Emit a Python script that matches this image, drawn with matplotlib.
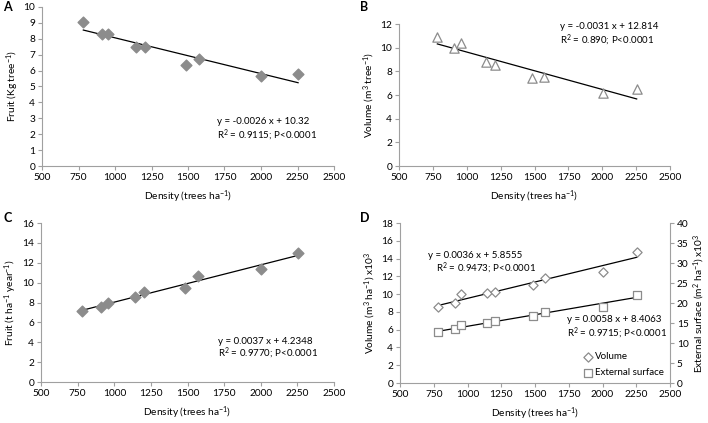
import matplotlib
matplotlib.use("Agg")
import matplotlib.pyplot as plt
import numpy as np

plt.rcParams['font.family'] = ['Lato', 'DejaVu Sans']
plt.rcParams['mathtext.fontset'] = 'custom'
plt.rcParams['mathtext.rm'] = 'Lato'
plt.rcParams['mathtext.it'] = 'Lato:italic'
plt.rcParams['mathtext.bf'] = 'Lato:bold'

density = [783, 908, 954, 1143, 1205, 1485, 1572, 2003, 2254]
fruit_tree = [9.06, 8.30, 8.32, 7.46, 7.46, 6.35, 6.75, 5.64, 5.77]
volume_tree = [10.9, 9.94, 10.42, 8.79, 8.50, 7.44, 7.52, 6.17, 6.54]
fruit_ha = [7.11, 7.55, 7.99, 8.59, 9.06, 9.46, 10.64, 11.38, 12.95]
volume_ha = [8.54, 9.03, 9.96, 10.07, 10.22, 11.01, 11.83, 12.47, 14.75]
surface_ha = [12.72, 13.55, 14.38, 15.05, 15.46, 16.63, 17.79, 19.04, 22.11]

eq_a = ["y = -0.0026 x + 10.32", "R$^2$ = 0.9115; P<0.0001"]
eq_b = ["y = -0.0031 x + 12.814", "R$^2$ = 0.890; P<0.0001"]
eq_c = ["y = 0.0037 x + 4.2348", "R$^2$ = 0.9770; P<0.0001"]
eq_d1 = ["y = 0.0036 x + 5.8555", "R$^2$ = 0.9473; P<0.0001"]
eq_d2 = ["y = 0.0058 x + 8.4063", "R$^2$ = 0.9715; P<0.0001"]

W, H = 708, 423
fig = plt.figure(figsize=(W/100, H/100), dpi=100)

def rect(l, r, t, b):
    return [l/W, 1-b/H, (r-l)/W, (b-t)/H]

GREY = '#8c8c8c'
SP = '#a0a0a0'
FS = 7.3
AFS = 7.0

def style(ax, ylim, yticks, ylabel):
    ax.set_xlim(500, 2500)
    ax.set_xticks(range(500, 2501, 250))
    ax.set_ylim(*ylim)
    ax.set_yticks(yticks)
    for s in ['top', 'right']:
        ax.spines[s].set_visible(False)
    for s in ['left', 'bottom']:
        ax.spines[s].set_color(SP)
        ax.spines[s].set_linewidth(0.8)
    ax.tick_params(axis='both', labelsize=FS, color=SP, length=3, width=0.8, pad=2)
    ax.set_xlabel("Density (trees ha$^{-1}$)", fontsize=FS, labelpad=5)
    ax.set_ylabel(ylabel, fontsize=FS, labelpad=2)

def fitline(ax, x, y):
    x = np.array(x); y = np.array(y)
    m, c = np.polyfit(x, y, 1)
    xs = np.array([x.min(), x.max()])
    ax.plot(xs, m*xs + c, color='black', lw=0.9, zorder=1)

# A
axA = fig.add_axes(rect(42, 334, 7, 166))
style(axA, (0, 10), range(0, 11), "Fruit (Kg tree$^{-1}$)")
fitline(axA, density, fruit_tree)
axA.scatter(density, fruit_tree, marker='D', s=30, color=GREY, edgecolor=GREY, zorder=2)
axA.text(1700, 2.8, eq_a[0], fontsize=AFS, va='center')
axA.text(1700, 1.9, eq_a[1], fontsize=AFS, va='center')
fig.text(3/W, 1-7/H, "A", fontsize=9, fontweight='bold', va='center')

# B
axB = fig.add_axes(rect(399, 670, 24, 166))
style(axB, (0, 12), range(0, 13, 2), "Volume (m$^3$ tree$^{-1}$)")
fitline(axB, density, volume_tree)
axB.scatter(density, volume_tree, marker='^', s=45, facecolor='white', edgecolor=GREY, linewidth=0.9, zorder=2)
axB.text(1690, 11.75, eq_b[0], fontsize=AFS, va='center')
axB.text(1690, 10.65, eq_b[1], fontsize=AFS, va='center')
fig.text(360/W, 1-7/H, "B", fontsize=9, fontweight='bold', va='center')

# C
axC = fig.add_axes(rect(41, 334, 223, 382))
style(axC, (0, 16), range(0, 17, 2), "Fruit (t ha$^{-1}$ year$^{-1}$)")
fitline(axC, density, fruit_ha)
axC.scatter(density, fruit_ha, marker='D', s=30, color=GREY, edgecolor=GREY, zorder=2)
axC.text(1705, 4.1, eq_c[0], fontsize=AFS, va='center')
axC.text(1705, 2.9, eq_c[1], fontsize=AFS, va='center')
fig.text(3/W, 1-218/H, "C", fontsize=9, fontweight='bold', va='center')

# D
axD = fig.add_axes(rect(400, 670, 223, 383))
style(axD, (0, 18), range(0, 19, 2), "Volume (m$^3$ ha$^{-1}$) x10$^3$")
axD2 = axD.twinx()
axD2.set_ylim(0, 40)
axD2.set_yticks(range(0, 41, 5))
for s in ['top', 'left', 'bottom']:
    axD2.spines[s].set_visible(False)
axD2.spines['right'].set_color(SP)
axD2.spines['right'].set_linewidth(0.8)
axD2.tick_params(axis='y', labelsize=FS, color=SP, length=3, width=0.8, pad=2)
axD2.set_ylabel("External surface (m$^2$ ha$^{-1}$) x10$^3$", fontsize=FS, labelpad=2)
fitline(axD, density, volume_ha)
fitline(axD2, density, surface_ha)
hv = axD.scatter(density, volume_ha, marker='D', s=22, facecolor='white', edgecolor=GREY, linewidth=0.9, zorder=2, label='Volume')
hs = axD2.scatter(density, surface_ha, marker='s', s=40, facecolor='white', edgecolor=GREY, linewidth=0.9, zorder=2, label='External surface')
axD.text(705, 14.4, eq_d1[0], fontsize=AFS, va='center')
axD.text(770, 12.9, eq_d1[1], fontsize=AFS, va='center')
axD.text(1735, 7.2, eq_d2[0], fontsize=AFS, va='center')
axD.text(1735, 5.6, eq_d2[1], fontsize=AFS, va='center')
axD2.legend(handles=[hv, hs], loc='lower right', frameon=False, fontsize=AFS,
            handletextpad=0.1, borderaxespad=0.2, labelspacing=0.7, handlelength=1.2)
fig.text(360/W, 1-218/H, "D", fontsize=9, fontweight='bold', va='center')

fig.savefig("out.png", dpi=100)
